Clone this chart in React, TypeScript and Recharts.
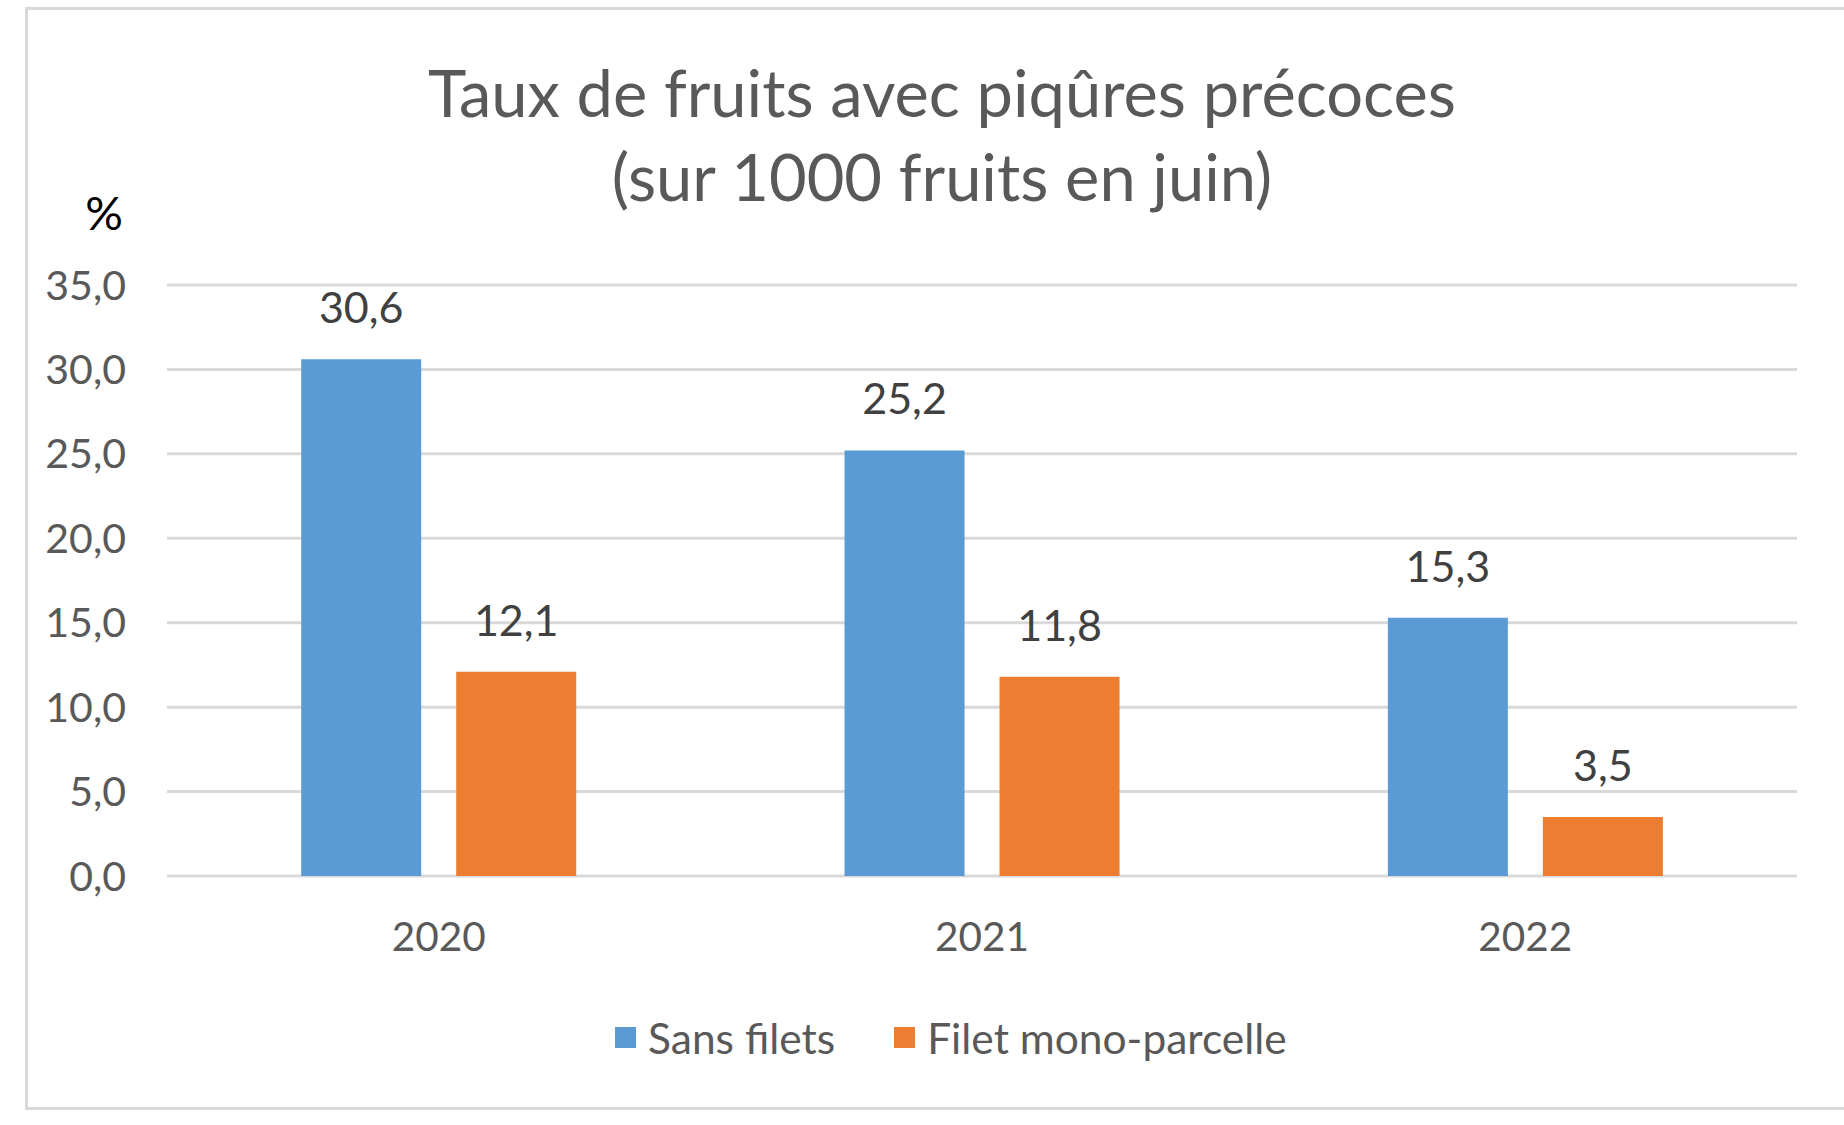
import { Bar, BarChart, CartesianGrid, LabelList, XAxis, YAxis } from 'recharts'

// Excel-style palette
const BLUE = '#5b9bd5'
const ORANGE = '#ed7d31'
const GRID = '#d9d9d9'
const TEXT = '#595959'
const FONT = 'Lato, "Open Sans", sans-serif'

const years = ['2020', '2021', '2022']
const sansFilets = [30.6, 25.2, 15.3]
const filetMono = [12.1, 11.8, 3.5]
const yTicks = [0, 5, 10, 15, 20, 25, 30, 35]
const seriesNames = ['Sans filets', 'Filet mono-parcelle']

const data = years.map((year, i) => ({
  year,
  sans: sansFilets[i],
  mono: filetMono[i],
}))

const fmt = (v: number) => v.toFixed(1).replace('.', ',')

// Legend drawn as plain HTML so it does not eat into the plot height
function LegendRow() {
  const items = [
    { name: seriesNames[0], color: BLUE },
    { name: seriesNames[1], color: ORANGE },
  ]
  return (
    <div
      style={{
        position: 'absolute',
        left: 615,
        top: 1012,
        height: 50,
        display: 'flex',
        alignItems: 'center',
        fontFamily: FONT,
        fontSize: 42.5,
        color: TEXT,
        whiteSpace: 'nowrap',
      }}
    >
      {items.map((it, i) => (
        <div key={it.name} style={{ display: 'flex', alignItems: 'center', marginRight: i === 0 ? 59 : 0 }}>
          <span style={{ width: 21, height: 21, background: it.color, display: 'inline-block', marginRight: 12 }} />
          <span>{it.name}</span>
        </div>
      ))}
    </div>
  )
}

export default function App() {
  return (
    <div style={{ position: 'absolute', left: 0, top: 0, width: 1844, height: 1125, background: '#fff', overflow: 'hidden' }}>
      {/* chart area frame: right edge falls off the picture */}
      <div
        style={{
          position: 'absolute',
          left: 25,
          top: 7,
          width: 1900,
          height: 1097,
          borderLeft: `3px solid ${GRID}`,
          borderTop: `3px solid ${GRID}`,
          borderBottom: `3px solid ${GRID}`,
        }}
      />
      <div
        style={{
          position: 'absolute',
          left: 0,
          top: 50,
          width: 1884,
          textAlign: 'center',
          fontFamily: FONT,
          fontSize: 65,
          lineHeight: '84px',
          color: TEXT,
        }}
      >
        Taux de fruits avec piqûres précoces
        <br />
        (sur 1000 fruits en juin)
      </div>
      <div
        style={{
          position: 'absolute',
          left: 54,
          top: 184,
          width: 100,
          textAlign: 'center',
          fontFamily: FONT,
          fontSize: 47,
          lineHeight: '56px',
          color: '#000',
        }}
      >
        %
      </div>
      <div style={{ position: 'absolute', left: 0, top: 0 }}>
        <BarChart
          width={1844}
          height={1125}
          data={data}
          margin={{ top: 285, right: 47, bottom: 149, left: 0 }}
          barCategoryGap="24.7%"
          barGap={35}
        >
          <CartesianGrid horizontal vertical={false} stroke={GRID} strokeWidth={3} />
          <XAxis
            dataKey="year"
            axisLine={false}
            tickLine={false}
            tickSize={0}
            tickMargin={46}
            height={100}
            tick={{ fontSize: 40.5, fill: TEXT, fontFamily: FONT }}
          />
          <YAxis
            domain={[0, 35]}
            ticks={yTicks}
            axisLine={false}
            tickLine={false}
            tickSize={0}
            tickMargin={41}
            width={167}
            tickFormatter={(v) => fmt(v as number)}
            tick={{ fontSize: 41, fill: TEXT, fontFamily: FONT }}
          />
          <Bar dataKey="sans" name={seriesNames[0]} fill={BLUE} isAnimationActive={false}>
            <LabelList
              dataKey="sans"
              position="top"
              offset={36}
              formatter={(v: any) => fmt(v as number)}
              style={{ fontSize: 43, fill: '#404040', fontFamily: FONT }}
            />
          </Bar>
          <Bar dataKey="mono" name={seriesNames[1]} fill={ORANGE} isAnimationActive={false}>
            <LabelList
              dataKey="mono"
              position="top"
              offset={36}
              formatter={(v: any) => fmt(v as number)}
              style={{ fontSize: 43, fill: '#404040', fontFamily: FONT }}
            />
          </Bar>
        </BarChart>
      </div>
      <LegendRow />
    </div>
  )
}
